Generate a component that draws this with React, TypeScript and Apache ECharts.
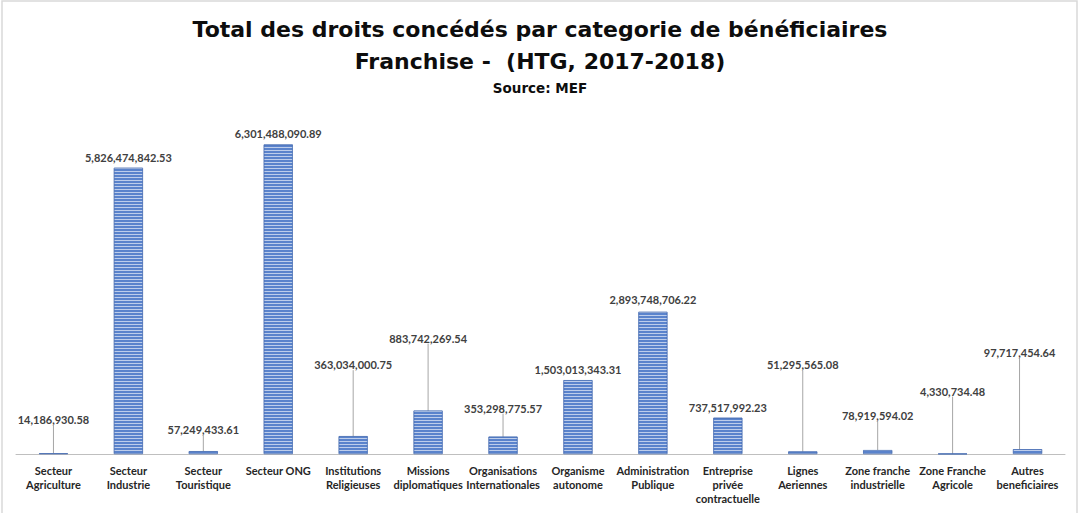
import React, { useEffect, useRef } from "react";
import * as echarts from "echarts";

const categories = [
  "Secteur\nAgriculture",
  "Secteur\nIndustrie",
  "Secteur\nTouristique",
  "Secteur ONG",
  "Institutions\nReligieuses",
  "Missions\ndiplomatiques",
  "Organisations\nInternationales",
  "Organisme\nautonome",
  "Administration\nPublique",
  "Entreprise\nprivée\ncontractuelle",
  "Lignes\nAeriennes",
  "Zone franche\nindustrielle",
  "Zone Franche\nAgricole",
  "Autres\nbeneficiaires",
];

const values = [
  14186930.58,
  5826474842.53,
  57249433.61,
  6301488090.89,
  363034000.75,
  883742269.54,
  353298775.57,
  1503013343.31,
  2893748706.22,
  737517992.23,
  51295565.08,
  78919594.02,
  4330734.48,
  97717454.64,
];

// label displacement (px) used to mimic the moved Excel data labels
const labelDy = [-23, 0, -11, 0, -61, -62, -18, 0, -2, 0, -76, -24, -52, -86];
const labelDx = [0, 0, 0, 0, 0, 0, 0, 0, 0, 0, 0, 0, 0, -8];

const fmt = (v: number) =>
  v.toLocaleString("en-US", { minimumFractionDigits: 2, maximumFractionDigits: 2 });

export default function App() {
  const ref = useRef<HTMLDivElement>(null);
  useEffect(() => {
    if (!ref.current) return;
    const chart = echarts.init(ref.current, undefined, { renderer: "svg" });
    const font = "Lato";
    const titleFont = "DejaVu Sans";
    chart.setOption({
      animation: false,
      backgroundColor: "#ffffff",
      title: [
        {
          text: "Total des droits concédés par categorie de bénéficiaires",
          left: "center",
          top: 13,
          textStyle: { fontFamily: titleFont, fontWeight: "bold", fontSize: 22, color: "#0d0d0d" },
        },
        {
          text: "Franchise -  (HTG, 2017-2018)",
          left: "center",
          top: 45,
          textStyle: { fontFamily: titleFont, fontWeight: "bold", fontSize: 22, color: "#0d0d0d" },
        },
        {
          text: "Source: MEF",
          left: "center",
          top: 76,
          textStyle: { fontFamily: titleFont, fontWeight: "bold", fontSize: 13.5, color: "#0d0d0d" },
        },
      ],
      graphic: [
        {
          type: "rect",
          shape: { x: 2, y: 1, width: 1075, height: 530 },
          style: { fill: "none", stroke: "#d9d9d9", lineWidth: 1.5 },
          silent: true,
        },
      ],
      grid: { left: 16, right: 15, top: 120, bottom: 59, containLabel: false },
      xAxis: {
        type: "category",
        data: categories,
        axisLine: { show: true, lineStyle: { color: "#bfbfbf", width: 1 } },
        axisTick: { show: false },
        axisLabel: {
          interval: 0,
          margin: 9,
          fontFamily: font,
          fontWeight: "bold",
          fontSize: 11,
          lineHeight: 14,
          color: "#262626",
        },
      },
      yAxis: {
        type: "value",
        min: 0,
        max: 6800000000,
        show: false,
        splitLine: { show: false },
      },
      series: [
        {
          type: "bar",
          barWidth: 29,
          data: values.map((v, i) => ({
            value: v,
            labelLine: { show: labelDy[i] < -5 },
          })),
          itemStyle: {
            color: "#5a83cc",
            borderColor: "#4a6fb3",
            borderWidth: 0.6,
            decal: {
              symbol: "rect",
              symbolSize: 1,
              dashArrayX: [5, 0],
              dashArrayY: [1, 2],
              rotation: 0,
              color: "rgba(255,255,255,0.6)",
            },
          },
          label: {
            show: true,
            position: "top",
            distance: 5,
            fontFamily: font,
            fontWeight: "bold",
            fontSize: 11,
            color: "#404040",
            formatter: (p: any) => fmt(p.value),
          },
          labelLine: {
            show: false,
            lineStyle: { color: "#a6a6a6", width: 1 },
          },
          labelLayout: (p: any) => ({ dy: labelDy[p.dataIndex], dx: labelDx[p.dataIndex] }),
        },
      ],
    });
    return () => chart.dispose();
  }, []);
  return (
    <div
      ref={ref}
      style={{ position: "absolute", left: 0, top: 0, width: 1080, height: 513 }}
    />
  );
}
